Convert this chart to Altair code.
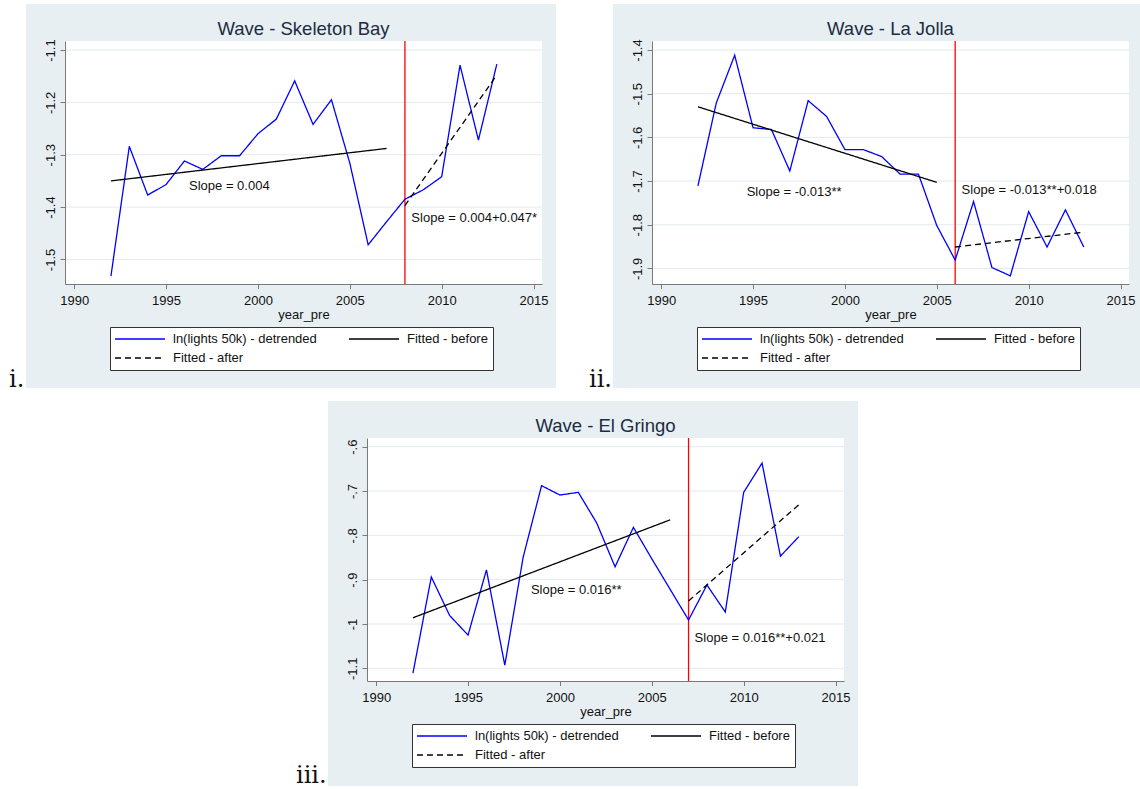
import altair as alt
import pandas as pd

FONT = "Liberation Sans"
PANEL_BG = "#e8eff2"
GRID = "#e2eaee"
AXIS_GRAY = "#7a7a7a"
TITLE_COLOR = "#1b2c44"

# ---- data -------------------------------------------------------------
years = list(range(1992, 2014))

skeleton_bay = [-1.532, -1.284, -1.377, -1.357, -1.312, -1.328, -1.302, -1.302,
                -1.260, -1.232, -1.159, -1.242, -1.195, -1.316, -1.472, -1.428,
                -1.385, -1.367, -1.342, -1.129, -1.272, -1.127]
la_jolla = [-1.711, -1.521, -1.412, -1.578, -1.582, -1.677, -1.516, -1.552,
            -1.628, -1.628, -1.644, -1.684, -1.684, -1.802, -1.881, -1.747,
            -1.898, -1.917, -1.770, -1.851, -1.766, -1.851]
el_gringo = [-1.111, -0.894, -0.981, -1.025, -0.878, -1.093, -0.849, -0.688,
             -0.709, -0.703, -0.772, -0.871, -0.782, -0.853, -0.922, -0.991,
             -0.912, -0.973, -0.703, -0.637, -0.847, -0.803]

# fitted trend lines: first and last year with the fitted value at each
skeleton_before = ([1992, 2007], [-1.350, -1.288])
skeleton_after = ([2008, 2013], [-1.397, -1.148])
la_jolla_before = ([1992, 2005], [-1.530, -1.703])
la_jolla_after = ([2006, 2013], [-1.851, -1.817])
el_gringo_before = ([1992, 2006], [-0.986, -0.765])
el_gringo_after = ([2007, 2013], [-0.948, -0.731])

# year the wave opened
skeleton_break = 2008
la_jolla_break = 2006
el_gringo_break = 2007

# slope annotations: year, value, text
skeleton_notes = [(1996.25, -1.359, "Slope = 0.004"),
                  (2008.35, -1.4205, "Slope = 0.004+0.047*")]
la_jolla_notes = [(1994.65, -1.724, "Slope = -0.013**"),
                  (2006.35, -1.720, "Slope = -0.013**+0.018")]
el_gringo_notes = [(1998.42, -0.924, "Slope = 0.016**"),
                   (2007.33, -1.032, "Slope = 0.016**+0.021")]

series = ["ln(lights 50k) - detrended", "Fitted - before", "Fitted - after"]
series_colors = ["#0000ff", "#000000", "#000000"]
series_dash = [[1, 0], [1, 0], [6, 4]]

x_ticks = [1990, 1995, 2000, 2005, 2010, 2015]
skeleton_y_ticks = [-1.5, -1.4, -1.3, -1.2, -1.1]
la_jolla_y_ticks = [-1.9, -1.8, -1.7, -1.6, -1.5, -1.4]
el_gringo_y_ticks = [-1.1, -1.0, -0.9, -0.8, -0.7, -0.6]

X_DOMAIN = [1989.5, 2015.46]
W, H = 477, 243

# Stata-style labels: hyphen minus, no leading zero
Y_LABEL = "replace(replace(format(datum.value, '.1~f'), '\u2212', '-'), '-0.', '-.')"


def x_axis():
    return alt.Axis(values=x_ticks, format="d", title="year_pre", grid=False,
                    labelFont=FONT, titleFont=FONT, labelFontSize=13, titleFontSize=13,
                    titleFontWeight="normal", labelColor="#111111", titleColor="#111111",
                    tickSize=4.5, labelPadding=6, titlePadding=1,
                    domainColor=AXIS_GRAY, tickColor=AXIS_GRAY, domainWidth=1, tickWidth=1,
                    labelFlush=False, labelOverlap=False, zindex=1)


def y_axis(ticks):
    return alt.Axis(values=ticks, title=None, grid=False, labelExpr=Y_LABEL,
                    labelAngle=270, labelAlign="center", labelBaseline="alphabetic",
                    labelFont=FONT, labelFontSize=13, labelColor="#111111",
                    tickSize=5, labelPadding=5.5,
                    domainColor=AXIS_GRAY, tickColor=AXIS_GRAY, domainWidth=1, tickWidth=1,
                    labelFlush=False, labelOverlap=False, zindex=1)


def legend():
    return alt.Legend(title=None, orient="none", legendX=45, legendY=286,
                      columns=2, direction="horizontal",
                      symbolType="M-4,0H4", symbolSize=156.25, symbolStrokeWidth=1.3,
                      symbolOffset=18, labelOffset=26,
                      labelFont=FONT, labelFontSize=13, labelColor="#111111", labelLimit=300,
                      rowPadding=5, columnPadding=29, padding=5,
                      strokeColor="#333333", fillColor="white", zindex=1)


def panel(title, values, before, after, break_year, y_ticks, y_domain, notes,
          frame, numeral, numeral_pos):
    df = pd.concat([
        pd.DataFrame({"year": years, "value": values, "series": series[0]}),
        pd.DataFrame({"year": before[0], "value": before[1], "series": series[1]}),
        pd.DataFrame({"year": after[0], "value": after[1], "series": series[2]}),
    ], ignore_index=True)

    xs = alt.Scale(domain=X_DOMAIN, nice=False, zero=False)
    ys = alt.Scale(domain=y_domain, nice=False, zero=False)
    x_enc = alt.X("year:Q", scale=xs, axis=x_axis())
    y_enc = alt.Y("value:Q", scale=ys, axis=y_axis(y_ticks))

    grid = alt.Chart(pd.DataFrame({"value": y_ticks})).mark_rule(
        color=GRID, strokeWidth=1).encode(y=y_enc)

    # light panel background around the white plotting region
    L, R, T, B = frame
    one = pd.DataFrame({"k": [0]})

    def band(x0, x1, y0, y1):
        return alt.Chart(one).mark_rect(color=PANEL_BG).encode(
            x=alt.value(x0), x2=alt.value(x1), y=alt.value(y0), y2=alt.value(y1))

    bands = [band(L, R, T, 0), band(L, R, H, B), band(L, 0, 0, H), band(W, R, 0, H)]

    brk = alt.Chart(pd.DataFrame({"year": [break_year]})).mark_rule(
        color="#ff0000", strokeWidth=1.3).encode(x=x_enc)

    lines = alt.Chart(df).mark_line(strokeWidth=1.3).encode(
        x=x_enc, y=y_enc,
        color=alt.Color("series:N", scale=alt.Scale(domain=series, range=series_colors),
                        legend=legend()),
        strokeDash=alt.StrokeDash("series:N", scale=alt.Scale(domain=series, range=series_dash),
                                  legend=legend()),
    )

    notes_df = pd.DataFrame(notes, columns=["year", "value", "label"])
    text = alt.Chart(notes_df).mark_text(
        align="left", baseline="middle", font=FONT, fontSize=13, color="#111111"
    ).encode(x=x_enc, y=y_enc, text="label:N")

    tag = alt.Chart(pd.DataFrame({"t": [numeral]})).mark_text(
        align="left", baseline="alphabetic", font="DejaVu Serif", fontSize=24, color="#111111"
    ).encode(text="t:N", x=alt.value(numeral_pos[0]), y=alt.value(numeral_pos[1]))

    return alt.layer(grid, *bands, brk, lines, text, tag).properties(
        width=W, height=H,
        view=alt.ViewBackground(stroke=None),
        title=alt.TitleParams(title, font=FONT, fontSize=18.5, fontWeight="normal",
                              color=TITLE_COLOR, anchor="middle", frame="group",
                              baseline="alphabetic", offset=-49, zindex=1),
    )


p1 = panel("Wave - Skeleton Bay", skeleton_bay, skeleton_before, skeleton_after,
           skeleton_break, skeleton_y_ticks, [-1.5469, -1.0828], skeleton_notes,
           (-39, 491, -37, 347), "i.", (-56, 346))
p2 = panel("Wave - La Jolla", la_jolla, la_jolla_before, la_jolla_after,
           la_jolla_break, la_jolla_y_ticks, [-1.9357, -1.3794], la_jolla_notes,
           (-39, 488, -37, 347), "ii.", (-63, 346))
p3 = panel("Wave - El Gringo", el_gringo, el_gringo_before, el_gringo_after,
           el_gringo_break, el_gringo_y_ticks, [-1.1286, -0.5804], el_gringo_notes,
           (-39, 491, -37, 348), "iii.", (-71, 345))

spacer = alt.Chart(pd.DataFrame({"v": [0]})).mark_point(opacity=0).encode(
    x=alt.value(0), y=alt.value(0)
).properties(width=290, height=H, view=alt.ViewBackground(stroke=None))

top = alt.hconcat(p1, p2, spacing=110, bounds="flush").resolve_scale(
    color="independent", strokeDash="independent")
bottom = alt.hconcat(spacer, p3, spacing=12, bounds="flush").resolve_scale(
    color="independent", strokeDash="independent")

# the nested rows count as (almost) zero height in the flush layout,
# so the row spacing carries the full distance between the two rows
chart = alt.vconcat(top, bottom, spacing=397, bounds="flush").resolve_scale(
    color="independent", strokeDash="independent"
).properties(
    padding={"left": 9, "top": 4, "right": 0, "bottom": 0},
    background="white",
).configure_view(stroke=None)

chart.save("out.html", embed_options={"renderer": "svg", "actions": False})
